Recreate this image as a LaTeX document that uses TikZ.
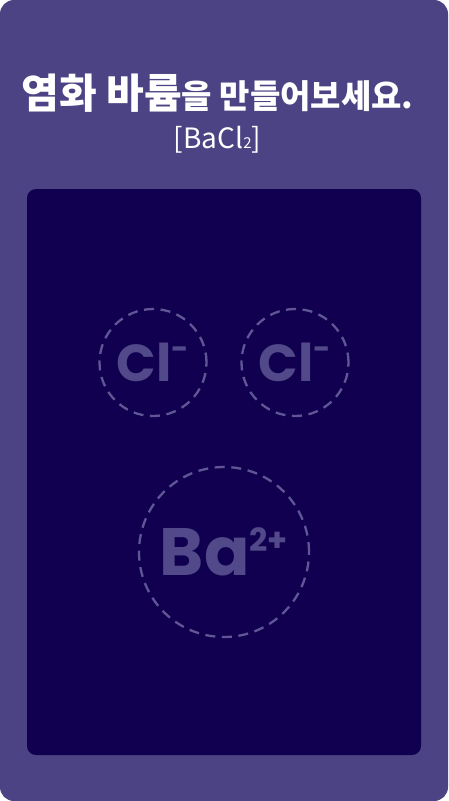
\documentclass[tikz,border=0pt]{standalone}
\usepackage{fontspec}
\usetikzlibrary{positioning}
\newfontfamily\krfont{Noto Sans CJK KR}
\newfontfamily\ionfont{Poppins}
\definecolor{cardbg}{HTML}{4B4384}
\definecolor{panelbg}{HTML}{110050}
\definecolor{ionline}{HTML}{5E5795}
\definecolor{iontext}{HTML}{514989}

\begin{document}
\begin{tikzpicture}[x=1pt, y=-1pt,
    % card and panel
    card/.style={fill=cardbg, draw=none, rounded corners=14pt},
    panel/.style={fill=panelbg, draw=none, rounded corners=9pt},
    % ion slots: dashed circle outline + faint label
    ionslot/.style={circle, draw=ionline, line width=2.3pt, dash pattern=on 10pt off 6.6pt, inner sep=0pt},
    ionlabel/.style={text=iontext, font=\ionfont\bfseries, inner sep=0pt},
    titletext/.style={text=white, font=\krfont\bfseries, inner sep=0pt},
    subtext/.style={text=white, font=\krfont, inner sep=0pt}
]

\fill[white] (0,0) rectangle (448,801);
\useasboundingbox (0,0) rectangle (448,801);

% Card background and dark panel
\fill[card] (0,0) rectangle (448,801);
\fill[panel] (27,189) rectangle (421,755);

% Title
\node[titletext, anchor=base] (title) at (217.5,108)
  {{\fontsize{41}{41}\selectfont 염화 바륨}{\fontsize{33}{33}\selectfont 을 만들어보세요.}};
\node[subtext, anchor=base] (formula) at (217.5,148)
  {\fontsize{28}{28}\selectfont [BaCl{\fontsize{15}{15}\selectfont 2}]};

% Ion slots
\node[ionslot, minimum size=107pt] (cla) at (153,362.5) {};
\node[ionslot, minimum size=107pt] (clb) at (295,362.5) {};
\node[ionslot, minimum size=170pt] (ba) at (224,552) {};

\foreach \n in {cla,clb}
  \node[ionlabel] at (\n) {\fontsize{52}{52}\selectfont Cl\raisebox{0.42em}{\fontsize{30}{30}\selectfont -}};
\node[ionlabel] at (ba) {\fontsize{67}{67}\selectfont Ba\raisebox{0.36em}{\fontsize{32}{32}\selectfont 2+}};

\end{tikzpicture}
\end{document}
